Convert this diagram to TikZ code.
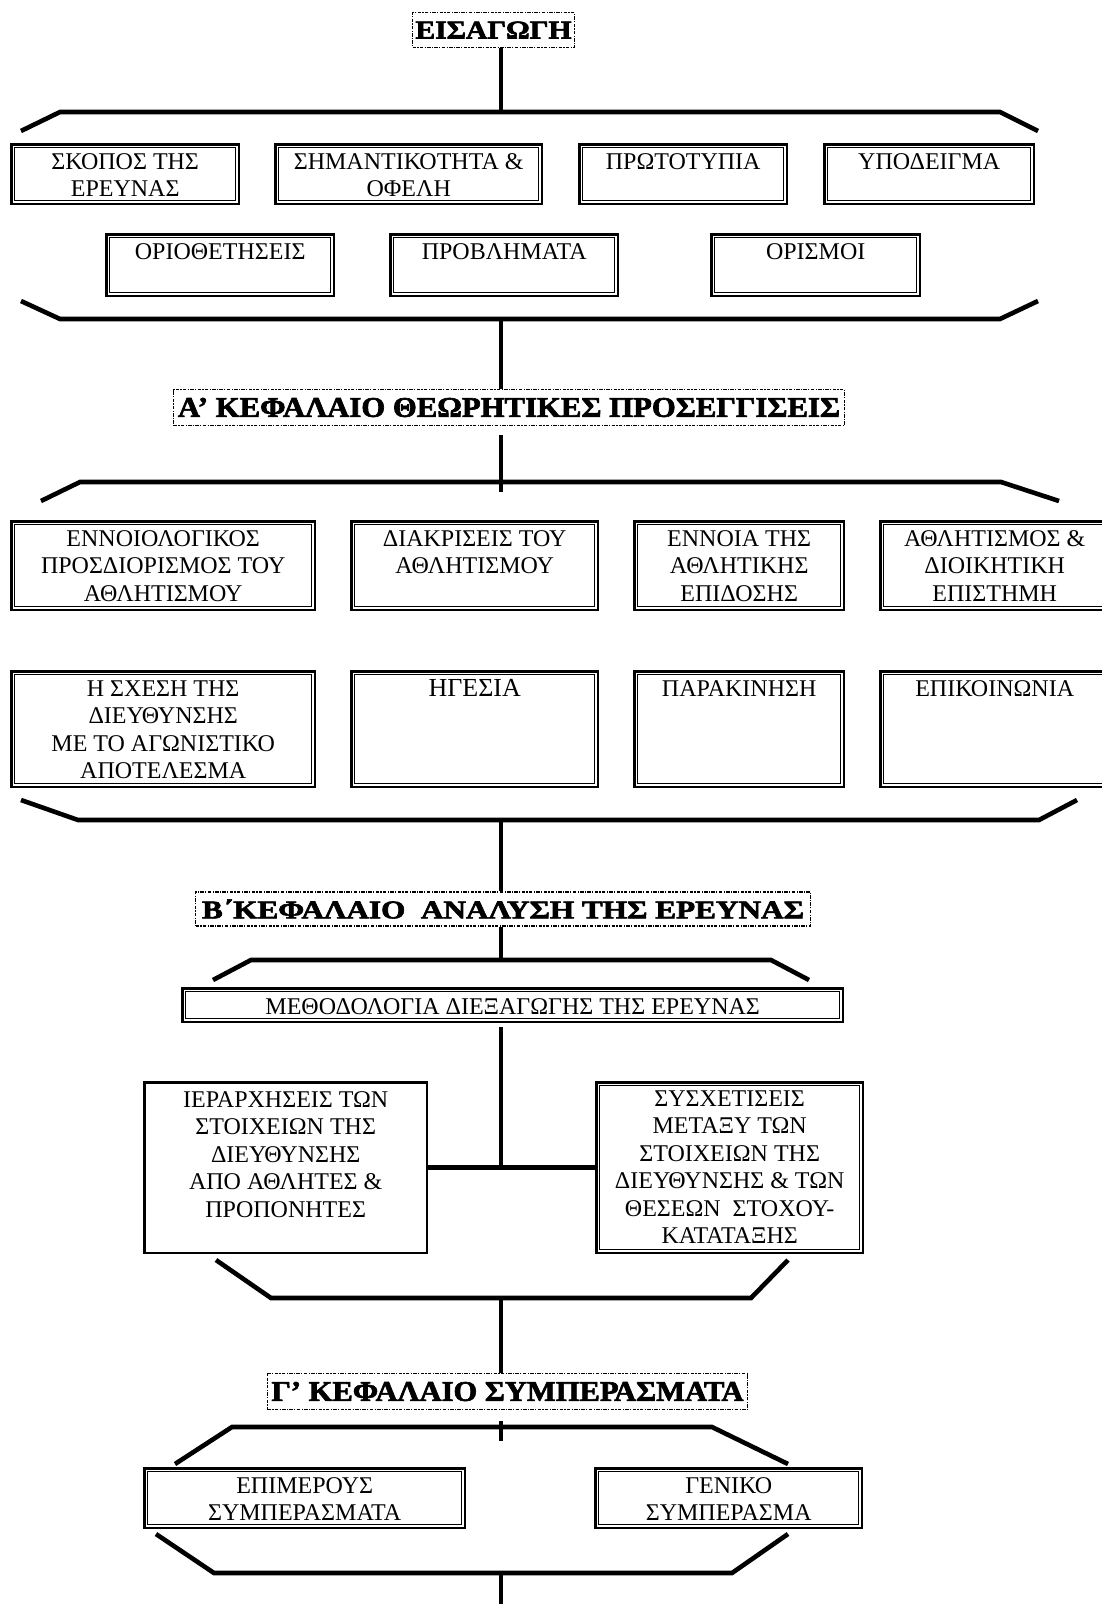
\documentclass[tikz,border=0pt]{standalone}
\usepackage{fontspec}
\setmainfont{Liberation Serif}
\newfontfamily\headfont{Liberation Serif}[BoldFeatures={FakeBold=2.2}]
\usepackage{graphicx}

% text block of a box, set at its top
\newcommand{\cell}[4][9pt]{\parbox[t][#3][t]{#2}{\vspace*{#1}\centering #4\par}}
% heavy heading text
\newcommand{\headtxt}[3][19pt]{\resizebox{#2}{#1}{\headfont\bfseries #3}}

\begin{document}
\begin{tikzpicture}[x=1pt, y=-1pt,
  box/.style={draw, line width=2.4pt, anchor=north west, inner sep=0pt,
    font=\fontsize{24}{27.5}\selectfont},
  head/.style={draw, line width=1.1pt, dash pattern=on 3.5pt off 1.3pt on 1.2pt off 1.3pt,
    fill=white, inner sep=0pt},
  link/.style={line width=4.6pt},
  brace/.style={line width=4.6pt}]
  \useasboundingbox (0,0) rectangle (1101,1604);

  % headings
  \node[head, minimum width=162pt, minimum height=35pt] (intro) at (493.5,30)
    {\headtxt[17pt]{156pt}{ΕΙΣΑΓΩΓΗ}};
  \node[head, minimum width=671pt, minimum height=36pt] (chapA) at (509,407.5)
    {\headtxt{662pt}{Α’ ΚΕΦΑΛΑΙΟ ΘΕΩΡΗΤΙΚΕΣ ΠΡΟΣΕΓΓΙΣΕΙΣ}};
  \node[head, minimum width=615pt, minimum height=34pt] (chapB) at (503,909)
    {\headtxt{602pt}{Β΄ΚΕΦΑΛΑΙΟ\ \ ΑΝΑΛΥΣΗ ΤΗΣ ΕΡΕΥΝΑΣ}};
  \node[head, minimum width=480pt, minimum height=36pt] (chapC) at (507.5,1391.5)
    {\headtxt{472pt}{Γ’ ΚΕΦΑΛΑΙΟ ΣΥΜΠΕΡΑΣΜΑΤΑ}};

  % introduction
  \node[box] (aim)    at (10.2,143.2)  {\cell{227.6pt}{59.6pt}{ΣΚΟΠΟΣ ΤΗΣ\\ΕΡΕΥΝΑΣ}};
  \node[box] (value)  at (274.2,143.2) {\cell{266.6pt}{59.6pt}{ΣΗΜΑΝΤΙΚΟΤΗΤΑ \&\\ΟΦΕΛΗ}};
  \node[box] (novel)  at (578.2,143.2) {\cell{207.6pt}{59.6pt}{ΠΡΩΤΟΤΥΠΙΑ}};
  \node[box] (model)  at (823.2,143.2) {\cell{209.6pt}{59.6pt}{ΥΠΟΔΕΙΓΜΑ}};
  \node[box] (limits) at (105.2,233.2) {\cell{227.6pt}{61.6pt}{ΟΡΙΟΘΕΤΗΣΕΙΣ}};
  \node[box] (issues) at (389.2,233.2) {\cell{227.6pt}{61.6pt}{ΠΡΟΒΛΗΜΑΤΑ}};
  \node[box] (terms)  at (710.2,233.2) {\cell{208.6pt}{61.6pt}{ΟΡΙΣΜΟΙ}};

  % chapter A
  \node[box] (concept) at (10.2,520.2)  {\cell{303.6pt}{88.6pt}{ΕΝΝΟΙΟΛΟΓΙΚΟΣ\\ΠΡΟΣΔΙΟΡΙΣΜΟΣ ΤΟΥ\\ΑΘΛΗΤΙΣΜΟΥ}};
  \node[box] (kinds)   at (350.2,520.2) {\cell{246.6pt}{88.6pt}{ΔΙΑΚΡΙΣΕΙΣ ΤΟΥ\\ΑΘΛΗΤΙΣΜΟΥ}};
  \node[box] (perform) at (633.2,520.2) {\cell{209.6pt}{88.6pt}{ΕΝΝΟΙΑ ΤΗΣ\\ΑΘΛΗΤΙΚΗΣ\\ΕΠΙΔΟΣΗΣ}};
  \node[box] (science) at (879.2,520.2) {\cell{228.6pt}{88.6pt}{ΑΘΛΗΤΙΣΜΟΣ \&\\ΔΙΟΙΚΗΤΙΚΗ\\ΕΠΙΣΤΗΜΗ}};
  \node[box] (result)  at (10.2,670.2)  {\cell{303.6pt}{115.6pt}{Η ΣΧΕΣΗ ΤΗΣ\\ΔΙΕΥΘΥΝΣΗΣ\\ΜΕ ΤΟ ΑΓΩΝΙΣΤΙΚΟ\\ΑΠΟΤΕΛΕΣΜΑ}};
  \node[box] (lead)    at (350.2,670.2) {\cell[8pt]{246.6pt}{115.6pt}{\fontsize{26}{28}\selectfont ΗΓΕΣΙΑ}};
  \node[box] (motive)  at (633.2,670.2) {\cell{209.6pt}{115.6pt}{ΠΑΡΑΚΙΝΗΣΗ}};
  \node[box] (talk)    at (879.2,670.2) {\cell{228.6pt}{115.6pt}{ΕΠΙΚΟΙΝΩΝΙΑ}};

  % chapter B
  \node[box] (method) at (181.2,987.2)  {\cell[10.5pt]{660.6pt}{33.6pt}{ΜΕΘΟΔΟΛΟΓΙΑ ΔΙΕΞΑΓΩΓΗΣ ΤΗΣ ΕΡΕΥΝΑΣ}};
  \node[box] (rank)   at (143.2,1081.2) {\cell{282.6pt}{170.6pt}{ΙΕΡΑΡΧΗΣΕΙΣ ΤΩΝ\\ΣΤΟΙΧΕΙΩΝ ΤΗΣ\\ΔΙΕΥΘΥΝΣΗΣ\\ΑΠΟ ΑΘΛΗΤΕΣ \&\\ΠΡΟΠΟΝΗΤΕΣ}};
  \node[box] (corr)   at (595.2,1081.2) {\cell[8pt]{266.6pt}{170.6pt}{ΣΥΣΧΕΤΙΣΕΙΣ\\ΜΕΤΑΞΥ ΤΩΝ\\ΣΤΟΙΧΕΙΩΝ ΤΗΣ\\ΔΙΕΥΘΥΝΣΗΣ \& ΤΩΝ\\ΘΕΣΕΩΝ\ \ ΣΤΟΧΟΥ-\\ΚΑΤΑΤΑΞΗΣ}};

  % chapter C
  \node[box] (partial) at (143.2,1467.2) {\cell{320.6pt}{59.6pt}{ΕΠΙΜΕΡΟΥΣ\\ΣΥΜΠΕΡΑΣΜΑΤΑ}};
  \node[box] (general) at (594.2,1467.2) {\cell{266.6pt}{59.6pt}{ΓΕΝΙΚΟ\\ΣΥΜΠΕΡΑΣΜΑ}};

  % inner line of the double frames
  \foreach \n in {aim,value,novel,model,limits,issues,terms,concept,kinds,perform,science,
      result,lead,motive,talk,method,corr,partial,general}
    \draw[line width=0.9pt] ([shift={(4.6,4.6)}]\n.north west) rectangle ([shift={(-4.6,-4.6)}]\n.south east);

  % brackets
  \coordinate (j1) at (501,112);
  \coordinate (j2) at (501,319);
  \coordinate (j3) at (501,492);
  \coordinate (j4) at (501,820);
  \coordinate (j5) at (501,960);
  \coordinate (j6) at (501,1165);
  \coordinate (j7) at (501,1298);
  \coordinate (j8) at (501,1421);
  \coordinate (j9) at (501,1441);
  \coordinate (j10) at (501,1573);
  \coordinate (jend) at (501,1610);
  \draw[brace] (21,131) -- (60,112) -- (1000,112) -- (1038,131);
  \draw[brace] (21,301) -- (60,319) -- (1000,319) -- (1038,301);
  \draw[brace] (41,501) -- (80,482) -- (1001,482) -- (1059,501);
  \draw[brace] (21,800) -- (78,820) -- (1039,820) -- (1077,800);
  \draw[brace] (213,980) -- (251,960) -- (771,960) -- (809,980);
  \draw[brace] (216,1260) -- (271,1298) -- (751,1298) -- (788,1260);
  \draw[brace] (175,1464) -- (232,1427) -- (712,1427) -- (788,1464);
  \draw[brace] (156,1534) -- (214,1573) -- (732,1573) -- (788,1534);

  % links
  \draw[link] (intro.south -| j1) -- (j1);
  \draw[link] (j2) -- (j2 |- chapA.north);
  \draw[link, shorten <=9pt] (chapA.south -| j3) -- (j3);
  \draw[link] (j4) -- (j4 |- chapB.north);
  \draw[link] (chapB.south -| j5) -- (j5);
  \draw[link, shorten <=4pt] (method.south -| j6) -- (j6);
  \draw[link] (rank.east) -- (corr.west);
  \draw[link] (j7) -- (j7 |- chapC.north);
  \draw[link] (j8) -- (j9);
  \draw[link] (j10) -- (jend);
\end{tikzpicture}
\end{document}
